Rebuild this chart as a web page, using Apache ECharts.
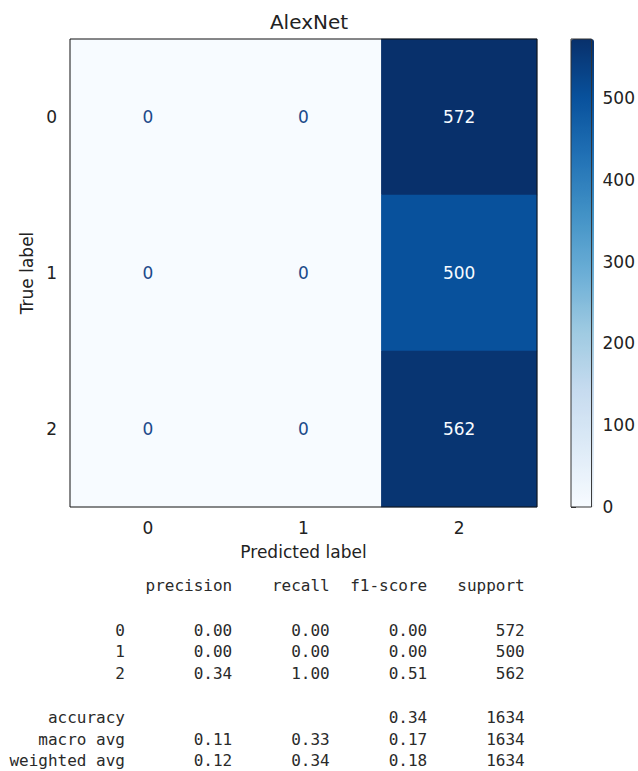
<!DOCTYPE html>
<html>
<head>
<meta charset="utf-8">
<script src="https://cdn.jsdelivr.net/npm/echarts@6/dist/echarts.min.js"></script>
<style>
  html, body { margin: 0; padding: 0; background: #ffffff; }
  #chart { width: 638px; height: 771px; }
</style>
</head>
<body>
<div id="chart"></div>
<script>
// Confusion matrix for AlexNet (rows: true label, columns: predicted label)
const classLabels = ['0', '1', '2'];
const matrix = [
  [0, 0, 572],
  [0, 0, 500],
  [0, 0, 562]
];
const colorbarTicks = [0, 100, 200, 300, 400, 500];

// Classification report
const reportHeaders = ['precision', 'recall', 'f1-score', 'support'];
const reportRowNames = ['0', '1', '2', '', 'accuracy', 'macro avg', 'weighted avg'];
const precision = ['0.00', '0.00', '0.34', '', '', '0.11', '0.12'];
const recall    = ['0.00', '0.00', '1.00', '', '', '0.33', '0.34'];
const f1score   = ['0.00', '0.00', '0.51', '', '0.34', '0.17', '0.18'];
const support   = ['572', '500', '562', '', '1634', '1634', '1634'];

// Matplotlib "Blues" colormap stops
const blues = ['#f7fbff', '#deebf7', '#c6dbef', '#9ecae1', '#6baed6',
               '#4292c6', '#2171b5', '#08519c', '#08306b'];
const lowTextColor = '#1c4a8a';

let vmin = Infinity, vmax = -Infinity;
matrix.forEach(r => r.forEach(v => { vmin = Math.min(vmin, v); vmax = Math.max(vmax, v); }));
const thresh = (vmin + vmax) / 2;

const heatData = [];
matrix.forEach((row, i) => row.forEach((v, j) => {
  heatData.push({
    value: [j, i, v],
    label: { color: v > thresh ? blues[0] : lowTextColor }
  });
}));

const FONT = 'DejaVu Sans';
const MONO = 'DejaVu Sans Mono';
const FS = 17;

// Text layout for the report block
const x0 = 8, cw = 9.75;
const colRight = [x0 + 12 * cw, x0 + 23 * cw, x0 + 33 * cw, x0 + 43 * cw, x0 + 53 * cw];
const headerY = 585;
const rowY0 = 630, rowStep = 21.8;
const reportText = [];
const txt = (x, y, s) => ({
  type: 'text', x: x, y: y,
  style: { text: s, fill: '#2a2a2a', font: '16px "' + MONO + '"', textAlign: 'right', textVerticalAlign: 'middle' }
});
reportHeaders.forEach((h, k) => reportText.push(txt(colRight[k + 1], headerY, h)));
const cols = [reportRowNames, precision, recall, f1score, support];
reportRowNames.forEach((_, r) => {
  const y = rowY0 + r * rowStep;
  cols.forEach((c, k) => { if (c[r]) reportText.push(txt(colRight[k], y, c[r])); });
});

const chart = echarts.init(document.getElementById('chart'), null, { renderer: 'svg' });
chart.setOption({
  animation: false,
  backgroundColor: '#ffffff',
  title: {
    text: 'AlexNet',
    left: 304, top: 7, textAlign: 'center',
    textStyle: { fontFamily: FONT, fontSize: 20, fontWeight: 'normal', color: '#222' }
  },
  grid: [
    { left: 70, top: 39, width: 467, height: 468, show: true, z: 10,
      backgroundColor: 'transparent', borderColor: '#111', borderWidth: 1 },
    { left: 571, top: 39, width: 23, height: 468, show: true, z: 10,
      backgroundColor: 'transparent', borderColor: '#333', borderWidth: 1 }
  ],
  xAxis: [
    {
      type: 'category', data: classLabels, gridIndex: 0,
      name: 'Predicted label', nameLocation: 'middle', nameGap: 36,
      nameTextStyle: { fontFamily: FONT, fontSize: FS, color: '#222' },
      axisLine: { show: false },
      axisTick: { alignWithLabel: true, length: 5, lineStyle: { color: '#111' } },
      axisLabel: { fontFamily: FONT, fontSize: FS, color: '#222', margin: 12 },
      splitLine: { show: false }
    },
    { type: 'value', gridIndex: 1, show: false, min: 0, max: 1 }
  ],
  yAxis: [
    {
      type: 'category', data: classLabels, gridIndex: 0, inverse: true,
      name: 'True label', nameLocation: 'middle', nameGap: 35, nameRotate: 90,
      nameTextStyle: { fontFamily: FONT, fontSize: FS, color: '#222' },
      axisLine: { show: false },
      axisTick: { alignWithLabel: true, length: 5, lineStyle: { color: '#111' } },
      axisLabel: { fontFamily: FONT, fontSize: FS, color: '#222', margin: 13 },
      splitLine: { show: false }
    },
    {
      type: 'value', gridIndex: 1, position: 'right', min: vmin, max: vmax,
      axisLine: { show: false },
      axisTick: { show: true, length: 5, customValues: colorbarTicks, lineStyle: { color: '#333' } },
      axisLabel: { fontFamily: FONT, fontSize: FS, color: '#222', margin: 11, customValues: colorbarTicks },
      splitLine: { show: false }
    }
  ],
  visualMap: {
    type: 'continuous', min: vmin, max: vmax, calculable: false,
    orient: 'vertical', left: 571, top: 39, padding: 0,
    itemWidth: 23, itemHeight: 468, seriesIndex: 0,
    inRange: { color: blues },
    hoverLink: false
  },
  series: [{
    type: 'heatmap', xAxisIndex: 0, yAxisIndex: 0,
    data: heatData,
    label: { show: true, fontFamily: FONT, fontSize: FS, formatter: p => String(p.value[2]) },
    emphasis: { disabled: true }
  }],
  graphic: reportText
});
</script>
</body>
</html>
